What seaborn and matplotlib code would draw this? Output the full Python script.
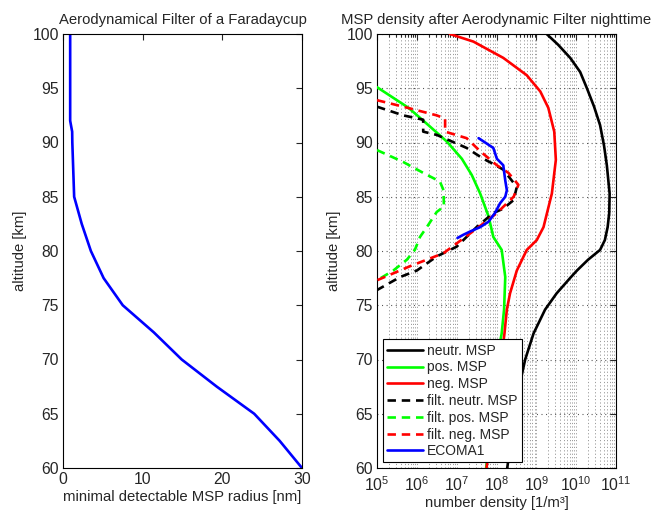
import numpy as np
import pandas as pd
import matplotlib
matplotlib.use("Agg")
import matplotlib.pyplot as plt
import seaborn as sns
from matplotlib.ticker import LogLocator, NullFormatter, NullLocator

# ---------------- data ----------------
# Left panel: minimal detectable MSP radius [nm] vs altitude [km]
filt_alt = [100, 92, 91, 90, 85, 82.5, 80, 77.5, 75, 72.5, 70, 67.5, 65, 62.5, 60]
filt_radius = [0.9, 0.9, 1.15, 1.17, 1.4, 2.35, 3.5, 5.1, 7.5, 11.4, 14.9, 19.3, 24.0, 27.2, 30.0]

# Right panel: log10 number density [1/m^3] vs altitude [km]
neutr_alt = [100, 99.0, 97.8, 96.5, 95.0, 93.3, 91.6, 89.7, 87.9, 85.3, 83.5, 82.2, 81.0, 80.1,
             79.2, 78.2, 77.6, 76.1, 74.6, 72.4, 70, 67.5, 65, 62.5, 60]
neutr_log = [9.26, 9.55, 9.85, 10.1, 10.27, 10.45, 10.6, 10.7, 10.77, 10.84, 10.83, 10.79, 10.72, 10.6,
             10.3, 10.02, 9.87, 9.51, 9.22, 8.93, 8.72, 8.57, 8.46, 8.36, 8.27]

pos_alt = [95.1, 93.2, 91.6, 90.1, 88.5, 87.0, 85.3, 83.2, 81.3, 80.1, 77.6, 74.6, 72.4, 71.6, 67.5, 65, 62.5, 60]
pos_log = [5.0, 5.79, 6.29, 6.75, 7.13, 7.38, 7.59, 7.80, 7.92, 8.13, 8.22, 8.19, 8.13, 8.09, 7.98, 7.9, 7.82, 7.74]

neg_alt = [100, 99.3, 97.8, 96.2, 94.7, 93.2, 91.0, 88.4, 85.3, 82.2, 81.0, 80.1, 78.2, 76.1, 74.6,
           72.4, 70, 67.5, 65, 62.5, 60]
neg_log = [6.83, 7.42, 8.17, 8.76, 9.10, 9.30, 9.45, 9.49, 9.39, 9.18, 9.01, 8.76, 8.51, 8.34, 8.26,
           8.20, 8.12, 8.02, 7.93, 7.84, 7.75]

fneutr_alt = [93.3, 92.5, 92.1, 91.0, 90.7, 89.5, 88.5, 88.1, 87.5, 85.9, 84.7, 83.9, 83.5, 82.2,
              80.4, 79.5, 78.2, 77.6, 76.4]
fneutr_log = [5.0, 5.66, 6.16, 6.16, 6.5, 7.25, 7.67, 7.88, 8.17, 8.51, 8.43, 8.17, 7.92, 7.5,
              7.0, 6.5, 6.0, 5.58, 5.0]

fpos_alt = [89.3, 88.2, 87.2, 86.4, 85.6, 84.1, 83.6, 82.2, 81.3, 80.1, 79.2, 78.2, 77.3]
fpos_log = [5.0, 5.66, 6.16, 6.58, 6.67, 6.68, 6.5, 6.25, 6.08, 5.95, 5.75, 5.41, 5.0]

fneg_alt = [93.9, 93.3, 92.5, 92.2, 91.0, 90.4, 89.2, 87.9, 87.2, 86.1, 85.0, 83.5, 82.2, 80.7,
            79.8, 78.6, 77.3]
fneg_log = [5.0, 5.66, 6.5, 6.71, 6.71, 7.25, 7.59, 8.01, 8.3, 8.55, 8.43, 8.01, 7.55, 7.0,
            6.67, 5.83, 5.0]

ecoma_alt = [90.4, 89.5, 88.5, 87.9, 86.5, 85.6, 85.0, 84.4, 83.5, 82.7, 82.2, 81.8, 81.5, 81.2]
ecoma_log = [7.55, 7.92, 8.01, 8.17, 8.22, 8.26, 8.22, 8.09, 7.96, 7.80, 7.59, 7.34, 7.17, 7.02]

series = [
    ("neutr. MSP", neutr_alt, neutr_log, "k", "-"),
    ("pos. MSP", pos_alt, pos_log, (0, 1, 0), "-"),
    ("neg. MSP", neg_alt, neg_log, (1, 0, 0), "-"),
    ("filt. neutr. MSP", fneutr_alt, fneutr_log, "k", "--"),
    ("filt. pos. MSP", fpos_alt, fpos_log, (0, 1, 0), "--"),
    ("filt. neg. MSP", fneg_alt, fneg_log, (1, 0, 0), "--"),
    ("ECOMA1", ecoma_alt, ecoma_log, (0, 0, 1), "-"),
]

# ---------------- style ----------------
sns.set_style("white")
plt.rcParams["font.family"] = ["Liberation Sans", "DejaVu Sans"]
plt.rcParams["mathtext.fontset"] = "custom"
plt.rcParams["mathtext.rm"] = "Liberation Sans"
plt.rcParams["mathtext.it"] = "Liberation Sans:italic"
plt.rcParams["xtick.direction"] = "in"
plt.rcParams["ytick.direction"] = "in"

fig = plt.figure(figsize=(6.64, 5.13), dpi=100)
ax1 = fig.add_axes([63 / 664, 45 / 513, 239 / 664, 434 / 513])
ax2 = fig.add_axes([377 / 664, 45 / 513, 239 / 664, 434 / 513])

LW = 1.9
DASH = (3.2, 2.2)
FS = 10.7

# Left panel
df_f = pd.DataFrame({"radius": filt_radius, "alt": filt_alt})
sns.lineplot(data=df_f, x="radius", y="alt", ax=ax1, color=(0, 0, 1), lw=LW,
             sort=False, estimator=None, orient="y")
ax1.set_xlim(0, 30)
ax1.set_ylim(60, 100)
ax1.set_xticks([0, 10, 20, 30])
ax1.set_yticks(range(60, 101, 5))
ax1.set_xlabel("minimal detectable MSP radius [nm]", fontsize=FS, labelpad=2)
ax1.set_ylabel("altitude [km]", fontsize=FS, labelpad=4)
ax1.set_title("Aerodynamical Filter of a Faradaycup", fontsize=FS, pad=7)

# Right panel
for name, alt, lg, col, ls in series:
    df = pd.DataFrame({"density": 10 ** np.array(lg), "alt": alt})
    sns.lineplot(data=df, x="density", y="alt", ax=ax2, color=col, lw=LW,
                 sort=False, estimator=None, orient="y", label=name, zorder=3)
for line, (name, alt, lg, col, ls) in zip(ax2.get_lines(), series):
    if ls == "--":
        line.set_dashes(DASH)

ax2.set_xscale("log")
ax2.set_xlim(1e5, 1e11)
ax2.set_ylim(60, 100)
ax2.set_yticks(range(60, 101, 5))
ax2.xaxis.set_major_locator(LogLocator(base=10, numticks=10))
ax2.xaxis.set_minor_locator(LogLocator(base=10, subs=np.arange(2, 10), numticks=20))
ax2.xaxis.set_minor_formatter(NullFormatter())
ax2.yaxis.set_minor_locator(NullLocator())
# vertical dotted grid (major + minor), horizontal dotted grid at major ticks only
ax2.grid(True, axis="x", which="both", color="0.55", lw=0.6, dashes=(1.4, 2.7))
ax2.grid(True, axis="y", which="major", color="0.3", lw=0.8, dashes=(0.9, 3.2))
ax2.set_axisbelow(True)
ax2.set_xlabel("number density [1/m³]", fontsize=FS, labelpad=2)
ax2.set_ylabel("altitude [km]", fontsize=FS, labelpad=4)
ax2.set_title("MSP density after Aerodynamic Filter nighttime", fontsize=FS, pad=7)

leg = ax2.legend(loc="lower left", fontsize=10, frameon=True, fancybox=False,
                 handlelength=2.6, handletextpad=0.3, borderpad=0.3,
                 labelspacing=0.2, borderaxespad=0.4)
leg.get_frame().set_edgecolor("k")
leg.get_frame().set_linewidth(0.8)
leg.get_frame().set_alpha(1)
for lh in leg.get_lines():
    lh.set_linewidth(LW)
for lh, (name, alt, lg, col, ls) in zip(leg.get_lines(), series):
    if ls == "--":
        lh.set_dashes(DASH)

for ax in (ax1, ax2):
    ax.tick_params(which="both", top=True, right=True, labelsize=11.3, length=4, width=0.8, pad=3)
    ax.tick_params(which="minor", length=2)
    for s in ax.spines.values():
        s.set_color("k")
        s.set_linewidth(0.8)
ax2.tick_params(axis="x", which="major", pad=5)

fig.savefig("out.png", dpi=100)
